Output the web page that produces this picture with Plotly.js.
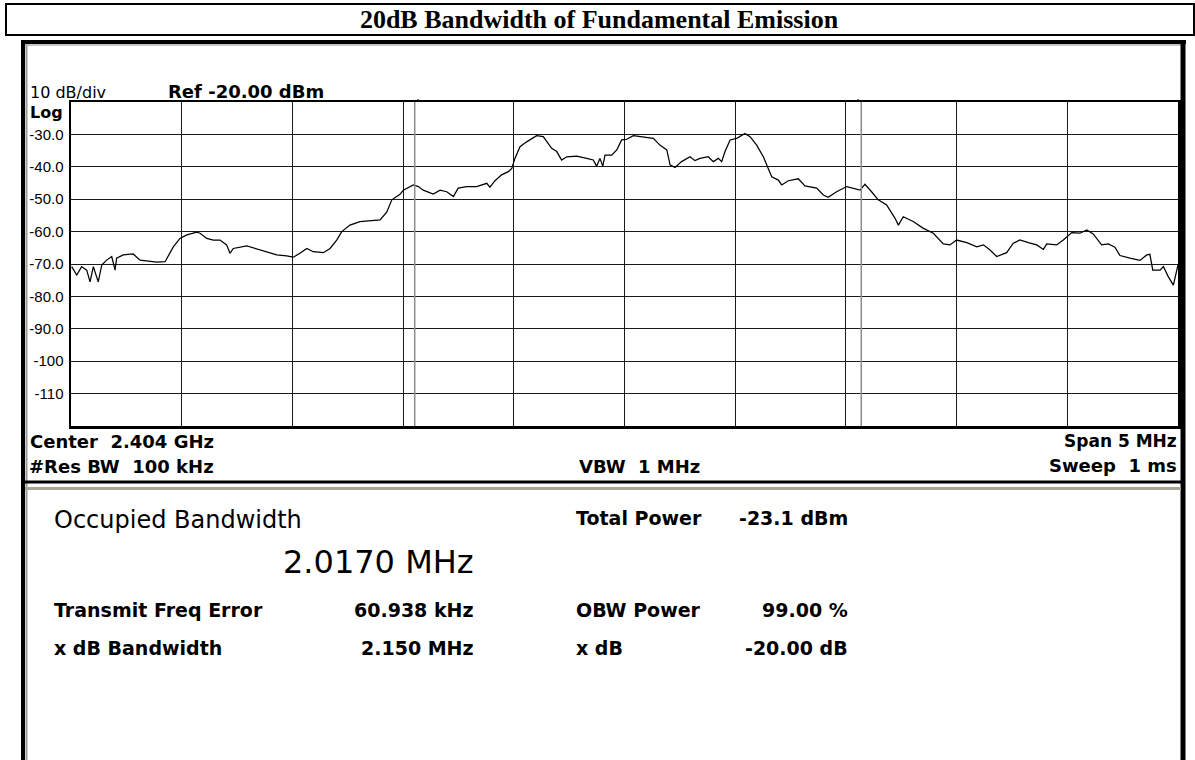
<!DOCTYPE html>
<html>
<head>
<meta charset="utf-8">
<script src="https://cdn.plot.ly/plotly-3.0.1.min.js"></script>
<style>
  html, body { margin: 0; padding: 0; background: #ffffff; }
  #chart { width: 1195px; height: 760px; }
</style>
</head>
<body>
<div id="chart"></div>
<script>
// ---------------- data ----------------
const chartTitle = "20dB Bandwidth of Fundamental Emission";
const centerGHz = 2.404;
const spanMHz = 5;
const refLevelDbm = -20;
const dbPerDiv = 10;
const numDivs = 10;

// trace: frequency offset from center (MHz) and level (dBm)
const freqOffsetMHz = [
  -2.497, -2.474, -2.452, -2.429, -2.414, -2.399, -2.377, -2.361, -2.339, -2.316,
  -2.301, -2.294, -2.264, -2.219, -2.188, -2.143, -2.113, -2.075, -2.053, -2.038,
  -2.008, -1.977, -1.932, -1.917, -1.887, -1.857, -1.827, -1.797, -1.782, -1.767,
  -1.706, -1.646, -1.616, -1.571, -1.526, -1.496, -1.466, -1.435, -1.406, -1.360,
  -1.330, -1.300, -1.277, -1.240, -1.195, -1.150, -1.104, -1.074, -1.051, -1.014,
  -0.999, -0.954, -0.931, -0.909, -0.864, -0.833, -0.803, -0.773, -0.751, -0.713,
  -0.668, -0.622, -0.608, -0.585, -0.555, -0.525, -0.509, -0.495, -0.472, -0.442,
  -0.397, -0.367, -0.344, -0.329, -0.306, -0.284, -0.261, -0.216, -0.171, -0.141,
  -0.126, -0.111, -0.098, -0.088, -0.058, -0.035, -0.013, 0.010, 0.040, 0.085,
  0.130, 0.160, 0.191, 0.206, 0.228, 0.258, 0.296, 0.318, 0.341, 0.378,
  0.401, 0.424, 0.439, 0.454, 0.477, 0.507, 0.544, 0.567, 0.597, 0.627,
  0.650, 0.665, 0.695, 0.710, 0.740, 0.785, 0.815, 0.868, 0.898, 0.920,
  0.958, 1.004, 1.064, 1.086, 1.116, 1.146, 1.184, 1.222, 1.237, 1.259,
  1.304, 1.350, 1.395, 1.440, 1.470, 1.500, 1.546, 1.591, 1.621, 1.651,
  1.681, 1.726, 1.756, 1.786, 1.824, 1.862, 1.892, 1.907, 1.952, 1.982,
  2.020, 2.057, 2.088, 2.117, 2.155, 2.185, 2.215, 2.238, 2.283, 2.328,
  2.359, 2.373, 2.386, 2.419, 2.434, 2.456, 2.479, 2.494, 2.500
];
const levelDbm = [
  -70.8, -73.4, -70.8, -71.9, -75.5, -70.8, -75.5, -70.3, -68.8, -67.7,
  -71.9, -68.2, -67.2, -66.9, -68.8, -69.3, -69.4, -69.3, -66.7, -64.7,
  -62.1, -61.0, -60.2, -60.5, -62.1, -62.6, -62.6, -64.1, -66.7, -65.2,
  -64.4, -65.7, -66.2, -67.2, -67.5, -67.9, -66.7, -65.2, -66.2, -66.5,
  -65.2, -62.6, -60.0, -58.0, -56.9, -56.7, -56.4, -54.0, -50.2, -48.5,
  -47.2, -45.6, -46.1, -47.2, -48.4, -47.2, -47.7, -49.2, -46.6, -46.1,
  -46.1, -45.1, -46.3, -44.3, -42.5, -41.5, -40.5, -37.4, -33.8, -32.3,
  -30.4, -30.7, -32.7, -34.3, -35.3, -37.9, -36.9, -36.7, -37.4, -37.9,
  -39.8, -37.4, -39.8, -36.4, -36.4, -34.8, -31.7, -31.5, -30.4, -30.7,
  -31.2, -33.3, -34.8, -39.4, -40.2, -38.4, -36.9, -38.1, -37.4, -36.9,
  -38.4, -37.4, -38.4, -35.3, -31.7, -31.2, -29.7, -30.7, -33.3, -36.9,
  -40.5, -43.1, -44.1, -45.6, -44.3, -43.7, -45.9, -46.6, -48.7, -49.4,
  -47.7, -46.1, -47.2, -45.4, -47.7, -50.2, -51.8, -55.9, -58.0, -55.4,
  -56.9, -59.0, -60.5, -63.8, -64.1, -62.6, -63.4, -64.7, -64.1, -65.7,
  -67.7, -66.5, -63.6, -62.6, -63.4, -64.1, -65.5, -63.8, -64.1, -62.6,
  -60.3, -60.5, -59.5, -60.7, -64.1, -63.8, -64.8, -67.4, -68.2, -68.9,
  -67.2, -67.0, -71.9, -71.9, -70.8, -73.9, -76.5, -71.9, -70.3
];

// y tick labels as shown on the instrument
const yTickVals = [-30, -40, -50, -60, -70, -80, -90, -100, -110];
const yTickText = ["-30.0", "-40.0", "-50.0", "-60.0", "-70.0", "-80.0", "-90.0", "-100", "-110"];

// instrument readouts
const headerLabels = ["10 dB/div", "Ref -20.00 dBm", "Log"];
const footerLabels = ["Center\u00a0 2.404 GHz", "#Res BW\u00a0 100 kHz", "VBW\u00a0 1 MHz", "Span 5 MHz", "Sweep\u00a0 1 ms"];
const occupiedLabel = "Occupied Bandwidth";
const occupiedValue = "2.0170 MHz";
const leftLabels = ["Transmit Freq Error", "x dB Bandwidth"];
const leftValues = ["60.938 kHz", "2.150 MHz"];
const rightLabels = ["Total Power", "OBW Power", "x dB"];
const rightValues = ["-23.1 dBm", "99.00 %", "-20.00 dB"];

// measurement values that position the OBW marker lines
const freqErrorMHz = 0.060938;
const obwMHz = 2.0170;

// ---------------- layout helpers ----------------
const W = 1195, H = 760;
const PL = 71, PR = 1178, PT = 102, PB = 426;   // plot area in page pixels
const px = x => (x - PL) / (PR - PL);
const py = y => (PB - y) / (PB - PT);

const sansW = "DejaVu Sans, Verdana, sans-serif";

function ann(text, x, y, size, xanchor, opts) {
  return Object.assign({
    text: text, xref: "paper", yref: "paper",
    x: px(x), y: py(y), xanchor: xanchor, yanchor: "middle",
    showarrow: false, font: { family: sansW, size: size, color: "#000" }
  }, opts || {});
}
function rectShape(x0, y0, x1, y1, color, width) {
  return { type: "rect", xref: "paper", yref: "paper",
    x0: px(x0), x1: px(x1), y0: py(y0), y1: py(y1),
    line: { color: color, width: width }, fillcolor: "rgba(0,0,0,0)", layer: "above" };
}
function lineShape(x0, y0, x1, y1, color, width) {
  return { type: "line", xref: "paper", yref: "paper",
    x0: px(x0), x1: px(x1), y0: py(y0), y1: py(y1),
    line: { color: color, width: width }, layer: "above" };
}

const obwLeft = freqErrorMHz - obwMHz / 2;
const obwRight = freqErrorMHz + obwMHz / 2;

const shapes = [
  // title box
  rectShape(6, 4, 1194, 35, "#000", 2),
  // instrument frame
  lineShape(23, 41, 23, 760, "#000", 4),
  lineShape(26.5, 44, 26.5, 760, "#9a9a9a", 2),
  lineShape(21, 42, 1186, 42, "#000", 4),
  lineShape(25, 45, 1183, 45, "#b0b0b0", 1.5),
  lineShape(1183, 40, 1183, 760, "#000", 5),
  // bottom of the screen area
  lineShape(25, 482, 1181, 482, "#000", 3),
  lineShape(25, 488.5, 1181, 488.5, "#a8a496", 3),
  // OBW marker lines
  { type: "line", xref: "x", yref: "paper", x0: obwLeft, x1: obwLeft, y0: 0, y1: 1,
    line: { color: "#8c8c8c", width: 1.5 }, layer: "above" },
  { type: "line", xref: "x", yref: "paper", x0: obwRight, x1: obwRight, y0: 0, y1: 1,
    line: { color: "#8c8c8c", width: 1.5 }, layer: "above" },
  // small marker ticks above the graticule
  { type: "line", xref: "x", yref: "paper", x0: obwLeft + 0.015, x1: obwLeft + 0.015, y0: 1, y1: 1 + 3 / 324,
    line: { color: "#000", width: 1 } },
  { type: "line", xref: "x", yref: "paper", x0: obwRight - 0.015, x1: obwRight - 0.015, y0: 1, y1: 1 + 3 / 324,
    line: { color: "#000", width: 1 } }
];

const annotations = [
  ann(headerLabels[0], 28, 92, 16, "left"),
  ann("<b>" + headerLabels[1] + "</b>", 166, 91, 18, "left"),
  ann("<b>" + headerLabels[2] + "</b>", 28, 112, 16, "left"),
  ann("<b>" + footerLabels[0] + "</b>", 28, 441, 18, "left"),
  ann("<b>" + footerLabels[1] + "</b>", 27, 466, 18, "left"),
  ann("<b>" + footerLabels[2] + "</b>", 639, 466, 18, "center"),
  ann("<b>" + footerLabels[3] + "</b>", 1179, 441, 17, "right"),
  ann("<b>" + footerLabels[4] + "</b>", 1179, 465, 18, "right"),
  ann(occupiedLabel, 52, 520, 24, "left"),
  ann(occupiedValue, 476, 562, 32, "right"),
  ann("<b>" + leftLabels[0] + "</b>", 52, 610, 19, "left"),
  ann("<b>" + leftValues[0] + "</b>", 476, 610, 19, "right"),
  ann("<b>" + leftLabels[1] + "</b>", 52, 648, 19, "left"),
  ann("<b>" + leftValues[1] + "</b>", 476, 648, 19, "right"),
  ann("<b>" + rightLabels[0] + "</b>", 574, 518, 19, "left"),
  ann("<b>" + rightValues[0] + "</b>", 850, 518, 19, "right"),
  ann("<b>" + rightLabels[1] + "</b>", 574, 610, 19, "left"),
  ann("<b>" + rightValues[1] + "</b>", 850, 610, 19, "right"),
  ann("<b>" + rightLabels[2] + "</b>", 574, 648, 19, "left"),
  ann("<b>" + rightValues[2] + "</b>", 850, 648, 19, "right")
];

const trace = {
  type: "scatter", mode: "lines",
  x: freqOffsetMHz, y: levelDbm,
  line: { color: "#000", width: 1.25 },
  hoverinfo: "skip", showlegend: false
};

const layout = {
  width: W, height: H,
  margin: { l: PL, r: W - PR, t: PT, b: H - PB, pad: 0 },
  paper_bgcolor: "#ffffff", plot_bgcolor: "#ffffff",
  showlegend: false,
  title: {
    text: "<b>" + chartTitle + "</b>",
    font: { family: "Liberation Serif, Times New Roman, serif", size: 26, color: "#000" },
    x: 599 / W, xref: "container", xanchor: "center",
    y: 1 - 19 / H, yref: "container", yanchor: "middle"
  },
  xaxis: {
    range: [-spanMHz / 2, spanMHz / 2],
    tick0: -spanMHz / 2, dtick: spanMHz / 10,
    showticklabels: false, ticks: "",
    showgrid: true, gridcolor: "#1a1a1a", gridwidth: 1,
    zeroline: false,
    showline: true, mirror: true, linecolor: "#000", linewidth: 2.5,
    fixedrange: true
  },
  yaxis: {
    range: [refLevelDbm - dbPerDiv * numDivs, refLevelDbm],
    tickmode: "array", tickvals: yTickVals, ticktext: yTickText,
    ticks: "", ticklabelstandoff: 2,
    tickfont: { family: "Liberation Sans, Arial, sans-serif", size: 15, color: "#000" },
    showgrid: true, gridcolor: "#1a1a1a", gridwidth: 1,
    zeroline: false,
    showline: true, mirror: true, linecolor: "#000", linewidth: 2.5,
    fixedrange: true
  },
  shapes: shapes,
  annotations: annotations
};

Plotly.newPlot("chart", [trace], layout, { displayModeBar: false, staticPlot: true });
</script>
</body>
</html>
